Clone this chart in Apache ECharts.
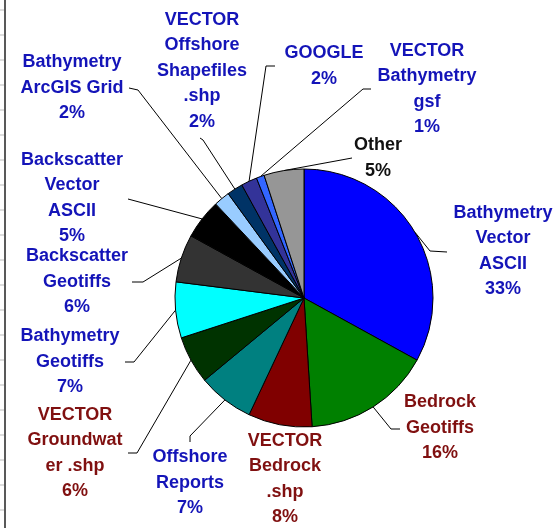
<!DOCTYPE html>
<html>
<head>
<meta charset="utf-8">
<script src="https://cdn.jsdelivr.net/npm/echarts@6/dist/echarts.min.js"></script>
<style>
  html, body { margin: 0; padding: 0; background: #fff; }
  #chart { width: 558px; height: 528px; }
</style>
</head>
<body>
<div id="chart"></div>
<script>
// data, clockwise from 12 o'clock
const names = [
  'Bathymetry\nVector\nASCII',
  'Bedrock\nGeotiffs',
  'VECTOR\nBedrock\n.shp',
  'Offshore\nReports',
  'VECTOR\nGroundwat\ner .shp',
  'Bathymetry\nGeotiffs',
  'Backscatter\nGeotiffs',
  'Backscatter\nVector\nASCII',
  'Bathymetry\nArcGIS Grid',
  'VECTOR\nOffshore\nShapefiles\n.shp',
  'GOOGLE',
  'VECTOR\nBathymetry\ngsf',
  'Other'
]
const values = [33, 16, 8, 7, 6, 7, 6, 5, 2, 2, 2, 1, 5]

// styles
const sliceColors = ['#0000ff', '#008000', '#800000', '#008080', '#003300', '#00ffff',
  '#333333', '#000000', '#99ccff', '#003366', '#333399', '#3366ff', '#969696']
const labelColors = ['#1414b8', '#801010', '#801010', '#1414b8', '#801010', '#1414b8',
  '#1414b8', '#1414b8', '#1414b8', '#1414b8', '#1414b8', '#1414b8', '#111111']

// where each label sits and how its leader line bends
const labelSpots = [
  { x: 503, y: 251, elbow: [430, 251], end: [447, 252] },
  { x: 440, y: 428, elbow: [391, 429], end: [400, 429] },
  { x: 285, y: 479, noLine: true },
  { x: 190, y: 483, elbow: [190, 436], end: [190, 442] },
  { x: 75, y: 453, elbow: [137, 453], end: [128, 453] },
  { x: 70, y: 362, elbow: [134, 362], end: [125, 362] },
  { x: 77, y: 282, elbow: [143, 282], end: [132, 282] },
  { x: 72, y: 198, elbow: [128, 199], end: [128, 199] },
  { x: 72, y: 88, elbow: [138, 90], end: [129, 88] },
  { x: 202, y: 71, elbow: [203, 140], end: [200, 138] },
  { x: 324, y: 66, elbow: [266, 66], end: [275, 66] },
  { x: 427, y: 89, elbow: [363, 89], end: [371, 89] },
  { x: 378, y: 158, elbow: [352, 158], end: [352, 158] }
]

const pieData = names.map((n, i) => ({
  name: n,
  value: values[i],
  itemStyle: { color: sliceColors[i] },
  label: { color: labelColors[i] },
  labelLine: { show: !labelSpots[i].noLine }
}))

// frame edge on the left with its small ticks
const edge = [{
  type: 'line',
  shape: { x1: 5, y1: 0, x2: 5, y2: 528 },
  style: { stroke: '#222', lineWidth: 1.5 }
}]
for (let y = 10; y < 528; y += 25) {
  edge.push({
    type: 'line',
    shape: { x1: 0, y1: y, x2: 4, y2: y },
    style: { stroke: '#bbb', lineWidth: 1 }
  })
}

const chart = echarts.init(document.getElementById('chart'))
chart.setOption({
  animation: false,
  graphic: edge,
  series: [
    {
      type: 'pie',
      center: [304, 298],
      radius: 129,
      startAngle: 90,
      clockwise: true,
      avoidLabelOverlap: false,
      data: pieData,
      itemStyle: { borderColor: '#000', borderWidth: 1 },
      label: {
        show: true,
        position: 'outside',
        fontFamily: 'Liberation Sans',
        fontWeight: 'bold',
        fontSize: 18,
        lineHeight: 25.5,
        align: 'center',
        formatter: p => p.name + '\n' + Math.round(p.percent) + '%'
      },
      labelLine: {
        show: true,
        length: 10,
        length2: 10,
        lineStyle: { color: '#000', width: 1 }
      },
      labelLayout: function (params) {
        const s = labelSpots[params.dataIndex]
        const out = { x: s.x, y: s.y, align: 'center', verticalAlign: 'middle' }
        const pts = params.labelLinePoints
        if (pts && !s.noLine) {
          out.labelLinePoints = [pts[0], s.elbow, s.end]
        }
        return out
      },
      emphasis: { disabled: true }
    }
  ]
})
</script>
</body>
</html>
